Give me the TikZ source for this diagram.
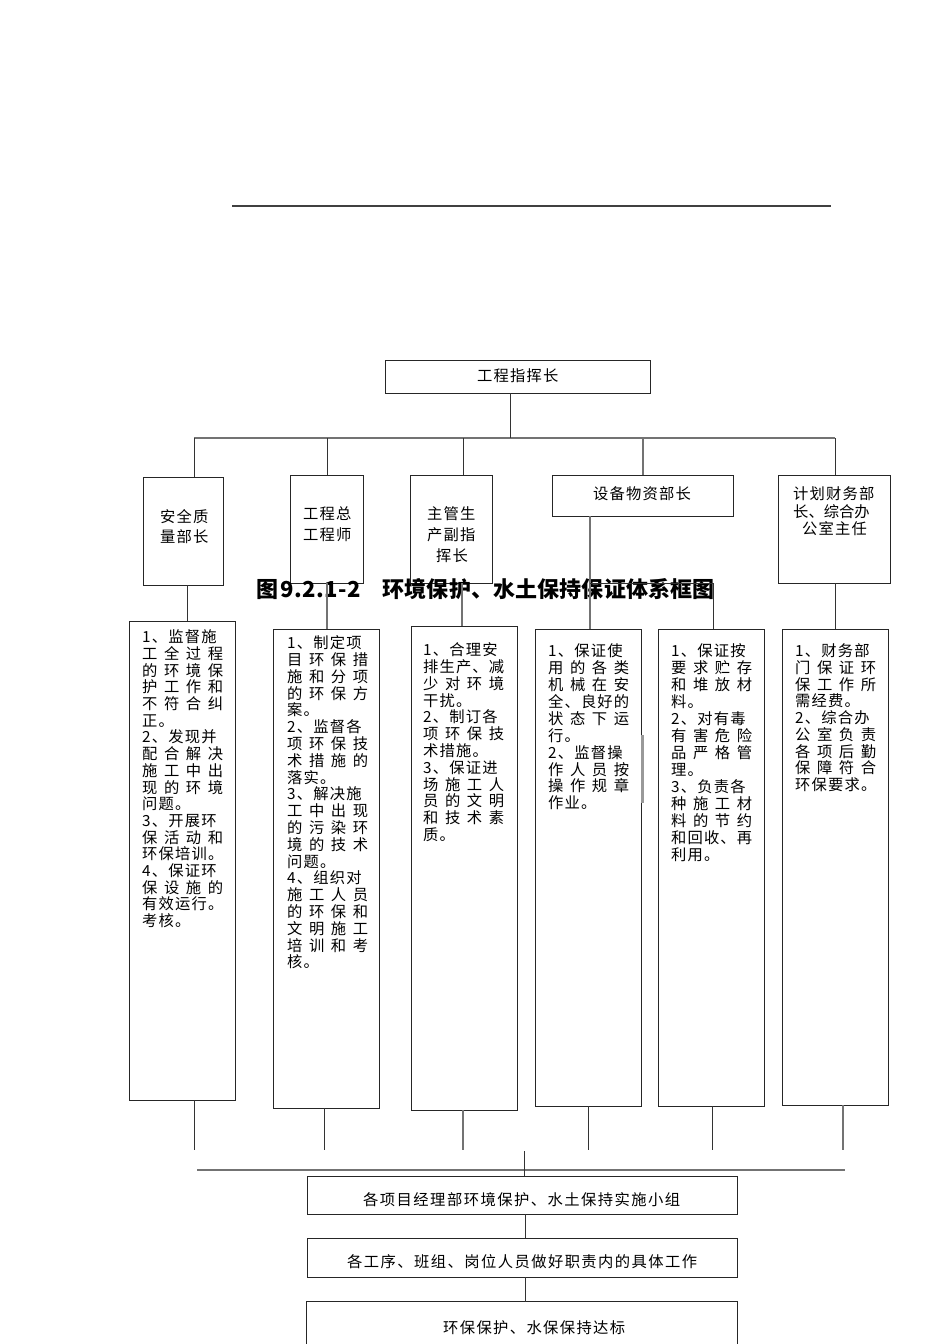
\documentclass[tikz,border=0pt]{standalone}
\usepackage{fontspec}
\setmainfont{Noto Sans CJK SC}
\def\spreadfirst#1{#1\spreadrest}
\def\spreadrest#1{\ifx\relax#1\else\hfil#1\expandafter\spreadrest\fi}
\def\trk#1{\ifx\relax#1\else#1\kern1.2pt\expandafter\trk\fi}
\def\monoseq#1{\ifx\relax#1\else\makebox[11.2pt]{#1}\expandafter\monoseq\fi}
\newcommand\Jl[1]{\hbox to 81pt{\spreadfirst#1\relax}}
\newcommand\Tl[1]{\hbox{\trk#1\relax}}
\newcommand\Sp[2]{\hbox to #1{\spreadfirst#2\relax}}
\newcommand\blk[2]{\vtop{\fontsize{15.3}{#1}\selectfont\lineskiplimit=-100pt\lineskip=0pt #2}}
\begin{document}
\begin{tikzpicture}[x=1pt,y=-1pt,
  box/.style={draw=black!85,line width=0.9pt,inner sep=0pt},
  ln/.style={draw=black!80,line width=0.9pt},
  gln/.style={draw=black!55,line width=1.1pt},
  txt/.style={inner sep=0pt,anchor=base west,font=\fontsize{15.3}{16.8}\selectfont},
]
\useasboundingbox (0,0) rectangle (950,1344);
\fill[white] (0,0) rectangle (950,1344);

% top rule
\coordinate (rl) at (232,206);
\coordinate (rr) at (831,206);
\draw[black!75,line width=2pt] (rl) -- (rr);

% top box
\node[box,minimum width=265pt,minimum height=33pt] (top) at (517.5,376.5) {};
\node[txt] (ttop) at (477,381) {\Tl{工程指挥长}};

% upper boxes
\node[box,minimum width=80pt,minimum height=108pt] (u1) at (183,531) {};
\node[txt] (tu1) at (160,522.7) {\blk{20pt}{\Tl{安全质}\Tl{量部长}}};
\node[box,minimum width=73pt,minimum height=108pt] (u2) at (326.5,529) {};
\node[txt] (tu2) at (303,519.7) {\blk{21pt}{\Tl{工程总}\Tl{工程师}}};
\node[box,minimum width=82pt,minimum height=108pt] (u3) at (451,529) {};
\node[txt] (tu3) at (427,519.7) {\blk{21pt}{\Tl{主管生}\Tl{产副指}\hbox{\kern9pt\Tl{挥长}}}};
\node[box,minimum width=181pt,minimum height=41pt] (u4) at (642.5,495.5) {};
\node[txt] (tu4) at (593,499.7) {\Tl{设备物资部长}};
\node[box,minimum width=112pt,minimum height=108pt] (u5) at (834,529) {};
\node[txt] (tu5) at (793,499.7) {\blk{17.5pt}{\Tl{计划财务部}\Sp{74pt}{长、综合办}\hbox{\kern9pt\Tl{公室主任}}}};

% caption
\node[inner sep=0pt,anchor=base west] (cap) at (256,597.5)
  {\fontsize{22}{22}\selectfont\bfseries\makebox[25pt][l]{图}\monoseq9.2.1-2\relax\kern23pt\Sp{332pt}{环境保护、水土保持保证体系框图}};

% lower boxes
\node[box,minimum width=106pt,minimum height=479pt] (l1) at (182,860.5) {};
\node[box,minimum width=106pt,minimum height=479pt] (l2) at (326,868.5) {};
\node[box,minimum width=106pt,minimum height=484pt] (l3) at (464,868) {};
\node[box,minimum width=106pt,minimum height=477pt] (l4) at (588,867.5) {};
\node[box,minimum width=106pt,minimum height=477pt] (l5) at (711,867.5) {};
\node[box,minimum width=106pt,minimum height=476pt] (l6) at (835,867) {};

\node[txt] (tl1) at (142,642.7) {\blk{16.7pt}{%
\Tl{1、监督施}\Jl{工全过程}\Jl{的环境保}\Jl{护工作和}\Jl{不符合纠}\Tl{正。}%
\Tl{2、发现并}\Jl{配合解决}\Jl{施工中出}\Jl{现的环境}\Tl{问题。}%
\Tl{3、开展环}\Jl{保活动和}\Tl{环保培训。}%
\Tl{4、保证环}\Jl{保设施的}\Tl{有效运行。}\Tl{考核。}}};
\node[txt] (tl2) at (287,648.7) {\blk{16.8pt}{%
\Tl{1、制定项}\Jl{目环保措}\Jl{施和分项}\Jl{的环保方}\Tl{案。}%
\Tl{2、监督各}\Jl{项环保技}\Jl{术措施的}\Tl{落实。}%
\Tl{3、解决施}\Jl{工中出现}\Jl{的污染环}\Jl{境的技术}\Tl{问题。}%
\Tl{4、组织对}\Jl{施工人员}\Jl{的环保和}\Jl{文明施工}\Jl{培训和考}\Tl{核。}}};
\node[txt] (tl3) at (423,655.7) {\blk{16.8pt}{%
\Tl{1、合理安}\Jl{排生产、减}\Jl{少对环境}\Tl{干扰。}%
\Tl{2、制订各}\Jl{项环保技}\Tl{术措施。}%
\Tl{3、保证进}\Jl{场施工人}\Jl{员的文明}\Jl{和技术素}\Tl{质。}}};
\node[txt] (tl4) at (548,656.7) {\blk{16.9pt}{%
\Tl{1、保证使}\Jl{用的各类}\Jl{机械在安}\Jl{全、良好的}\Jl{状态下运}\Tl{行。}%
\Tl{2、监督操}\Jl{作人员按}\Jl{操作规章}\Tl{作业。}}};
\node[txt] (tl5) at (671,656.7) {\blk{17pt}{%
\Tl{1、保证按}\Jl{要求贮存}\Jl{和堆放材}\Tl{料。}%
\Tl{2、对有毒}\Jl{有害危险}\Jl{品严格管}\Tl{理。}%
\Tl{3、负责各}\Jl{种施工材}\Jl{料的节约}\Jl{和回收、再}\Tl{利用。}}};
\node[txt] (tl6) at (795,656.7) {\blk{16.75pt}{%
\Tl{1、财务部}\Jl{门保证环}\Jl{保工作所}\Tl{需经费。}%
\Tl{2、综合办}\Jl{公室负责}\Jl{各项后勤}\Jl{保障符合}\Tl{环保要求。}}};

% bottom boxes
\node[box,minimum width=430pt,minimum height=38pt] (A) at (522,1195) {};
\node[txt] (tA) at (363,1205.7) {\Sp{317pt}{各项目经理部环境保护、水土保持实施小组}};
\node[box,minimum width=430pt,minimum height=39pt] (B) at (522,1257.5) {};
\node[txt] (tB) at (347,1267.7) {\Sp{350pt}{各工序、班组、岗位人员做好职责内的具体工作}};
\node[inner sep=0pt,minimum width=430pt,minimum height=48pt] (C) at (522,1326) {};
\draw[black!85,line width=0.9pt] (C.south west) -- (C.north west) -- (C.north east) -- (C.south east);
\node[txt] (tC) at (443,1333.7) {\Sp{182pt}{环保保护、水保保持达标}};

% connectors: top level
\coordinate (j0) at (510,438);
\coordinate (hL) at (194,438);
\coordinate (hR) at (835,438);
\coordinate (d2) at (327,438);
\coordinate (d3) at (463,438);
\coordinate (d4) at (643,438);
\draw[gln] (hL) -- (hR);
\draw[ln] (top.south -| j0) -- (j0);
\draw[ln] (hL) -- (hL |- u1.north);
\draw[ln] (d2) -- (d2 |- u2.north);
\draw[ln] (d3) -- (d3 |- u3.north);
\draw[gln] (d4) -- (d4 |- u4.north);
\draw[ln] (hR) -- (hR |- u5.north);

% upper to lower
\coordinate (v1) at (187,0);
\coordinate (v2) at (327,0);
\coordinate (v3) at (462,0);
\coordinate (v4) at (590,0);
\coordinate (v5) at (713,0);
\coordinate (v6) at (835,0);
\coordinate (k) at (590,583);
\draw[ln] (v1 |- u1.south) -- (v1 |- l1.north);
\draw[gln] (v2 |- u2.south) -- (v2 |- l2.north);
\draw[gln] (v3 |- u3.south) -- (v3 |- l3.north);
\draw[gln] (v4 |- u4.south) -- (v4 |- l4.north);
\draw[ln] (k) -- (k -| v5) -- (v5 |- l5.north);
\draw[ln] (v6 |- u5.south) -- (v6 |- l6.north);

% grey bar artefact
\draw[black!40,line width=2.6pt] (642.5,735) -- (642.5,803);

% lower to bus
\coordinate (e1) at (194,1150);
\coordinate (e2) at (324,1150);
\coordinate (e3) at (463,1150);
\coordinate (e4) at (588,1150);
\coordinate (e5) at (712,1150);
\coordinate (e6) at (843,1150);
\draw[ln] (e1 |- l1.south) -- (e1);
\draw[ln] (e2 |- l2.south) -- (e2);
\draw[gln] (e3 |- l3.south) -- (e3);
\draw[ln] (e4 |- l4.south) -- (e4);
\draw[ln] (e5 |- l5.south) -- (e5);
\draw[gln] (e6 |- l6.south) -- (e6);
\coordinate (bL) at (197,1170);
\coordinate (bR) at (845,1170);
\draw[black!55,line width=1.8pt] (bL) -- (bR);
\coordinate (c0) at (524,1151);
\coordinate (c1) at (525,0);
\draw[ln] (c0) -- (c0 |- A.north);
\draw[ln] (c1 |- A.south) -- (c1 |- B.north);
\draw[ln] (c1 |- B.south) -- (c1 |- C.north);
\end{tikzpicture}
\end{document}
